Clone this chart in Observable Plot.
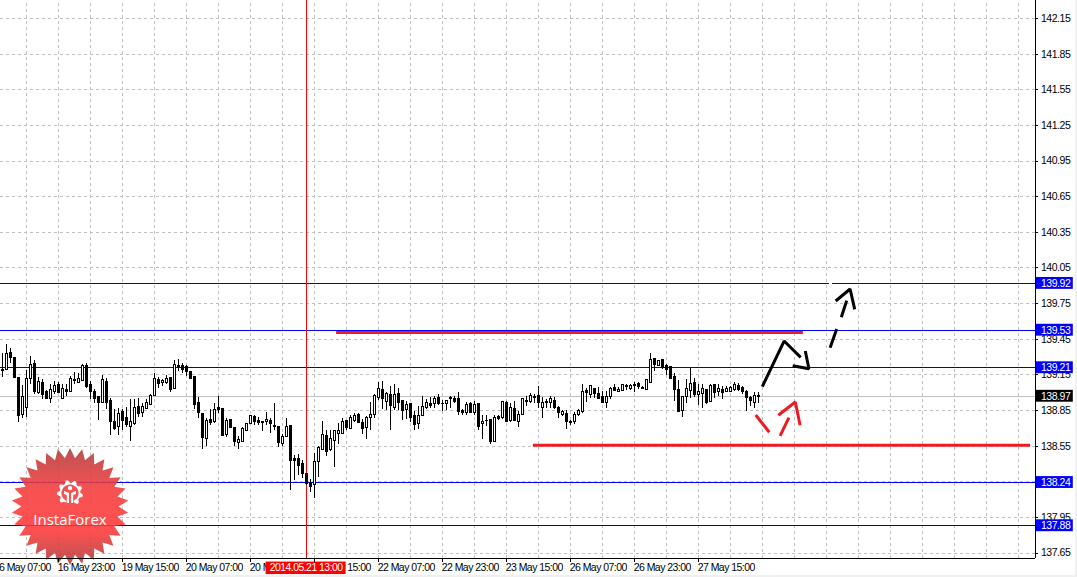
<!DOCTYPE html>
<html>
<head>
<meta charset="utf-8">
<script src="https://cdn.jsdelivr.net/npm/d3@7"></script>
<script src="https://cdn.jsdelivr.net/npm/@observablehq/plot@0.6"></script>
<style>
html,body{margin:0;padding:0;background:#f0f0f0;overflow:hidden}
#chart{width:1075px;height:575px;background:#fff;overflow:hidden}
#chart svg{display:block}
.ylab text{letter-spacing:-0.45px}
.xlab text{letter-spacing:-0.55px}
</style>
</head>
<body>
<svg width="0" height="0" style="position:absolute">
<defs><linearGradient id="badge" x1="0" y1="0" x2="0" y2="1">
<stop offset="0" stop-color="#b03a3a"/><stop offset="0.35" stop-color="#f53a3a"/>
<stop offset="0.7" stop-color="#ff3838"/><stop offset="1" stop-color="#b03a3a"/>
</linearGradient></defs>
</svg>
<div id="chart"></div>
<script>
const open = [
139.191,139.188,139.332,139.289,139.121,138.815,138.871,139.118,139.239,138.995,
139.079,139.003,138.944,139.006,139.065,138.950,139.023,139.006,139.104,139.085,
139.101,139.225,139.065,139.003,138.967,138.916,139.090,138.930,138.751,138.709,
138.841,138.784,138.714,138.740,138.877,138.832,138.866,138.899,138.972,139.107,
139.085,139.079,139.121,139.029,139.222,139.222,139.214,139.177,139.135,138.911,
138.821,138.608,138.770,138.754,138.869,138.860,138.644,138.770,138.703,138.574,
138.585,138.681,138.737,138.793,138.759,138.754,138.751,138.764,138.720,138.708,
138.571,138.630,138.720,138.442,138.442,138.400,138.316,138.243,138.220,138.419,
138.518,138.635,138.518,138.596,138.655,138.655,138.762,138.694,138.759,138.812,
138.742,138.706,138.790,138.815,138.958,139.023,138.922,138.978,138.874,138.989,
138.927,138.854,138.905,138.807,138.736,138.807,138.868,138.905,138.902,138.955,
138.908,138.908,138.955,138.947,138.947,138.843,138.832,138.902,138.826,138.905,
138.734,138.762,138.770,138.588,138.798,138.790,138.916,138.764,138.860,138.756,
138.812,138.930,138.922,138.964,138.969,138.874,138.925,138.916,138.927,138.871,
138.812,138.821,138.756,138.753,138.812,138.835,139.014,138.984,139.034,138.986,
138.967,138.916,138.967,139.037,139.006,139.014,139.048,139.034,139.056,139.070,
139.037,139.026,139.084,139.284,139.228,139.275,139.222,139.214,139.135,139.023,
138.849,138.961,139.017,139.079,138.978,138.986,139.023,138.925,139.062,139.009,
139.020,139.009,139.009,139.020,139.059,139.037,139.009,138.953,138.916,138.969];
const close = [
139.180,139.323,139.292,139.127,138.807,138.961,139.113,139.231,139.006,139.087,
138.981,138.947,139.020,139.054,139.000,139.029,139.003,139.116,139.099,139.113,
139.228,139.045,139.009,138.950,138.911,139.107,138.916,138.756,138.692,138.818,
138.765,138.728,138.751,138.869,138.821,138.877,138.911,138.972,139.113,139.076,
139.101,139.113,139.023,139.231,139.217,139.194,139.177,139.118,138.897,138.832,
138.622,138.759,138.742,138.855,138.855,138.638,138.759,138.703,138.588,138.599,
138.692,138.734,138.804,138.756,138.745,138.745,138.768,138.734,138.711,138.579,
138.624,138.708,138.428,138.428,138.386,138.316,138.229,138.209,138.414,138.537,
138.644,138.498,138.607,138.678,138.678,138.753,138.703,138.787,138.804,138.745,
138.697,138.787,138.809,138.972,139.028,138.944,138.989,138.888,138.981,138.916,
138.849,138.896,138.790,138.731,138.801,138.877,138.913,138.891,138.947,138.908,
138.902,138.927,138.944,138.919,138.840,138.832,138.896,138.832,138.896,138.714,
138.750,138.759,138.588,138.790,138.779,138.919,138.756,138.874,138.762,138.812,
138.947,138.919,138.969,138.958,138.916,138.913,138.911,138.944,138.871,138.832,
138.835,138.756,138.748,138.812,138.846,139.003,139.000,139.054,138.986,138.947,
138.916,138.964,139.031,139.017,139.026,139.062,139.054,139.056,139.062,139.045,
139.031,139.104,139.275,139.233,139.267,139.214,139.191,139.118,139.023,138.840,
138.967,139.031,139.073,138.981,139.006,139.028,138.911,139.056,139.000,139.028,
139.000,139.028,139.040,139.065,139.023,139.003,138.958,138.927,138.972,138.964];
const high = [
139.326,139.410,139.374,139.289,139.121,139.057,139.191,139.304,139.267,139.127,
139.107,139.015,139.065,139.093,139.087,139.065,139.065,139.135,139.172,139.163,
139.239,139.242,139.093,139.023,138.972,139.141,139.116,138.953,138.855,138.863,
138.855,138.877,138.944,138.939,138.953,138.911,138.944,138.981,139.163,139.127,
139.107,139.141,139.121,139.267,139.281,139.247,139.228,139.177,139.135,138.961,
138.821,138.784,138.855,138.911,138.972,138.860,138.784,138.776,138.709,138.630,
138.709,138.742,138.812,138.812,138.793,138.756,138.832,138.784,138.910,138.708,
138.644,138.784,138.720,138.475,138.484,138.433,138.316,138.273,138.489,138.543,
138.756,138.686,138.680,138.686,138.742,138.784,138.770,138.812,138.826,138.826,
138.776,138.798,138.919,138.989,139.087,139.093,139.000,139.051,139.073,139.037,
138.927,138.924,138.910,138.840,138.882,138.966,138.944,138.958,138.966,138.981,
138.938,138.933,138.972,138.972,139.003,138.860,138.916,138.919,138.924,138.905,
138.804,138.804,138.770,138.812,138.804,138.924,138.922,138.910,138.924,138.846,
138.953,138.972,138.995,138.989,139.056,138.961,138.947,138.967,138.961,138.882,
138.849,138.849,138.770,138.832,138.860,139.073,139.037,139.056,139.037,139.042,
139.009,139.009,139.042,139.073,139.045,139.073,139.073,139.065,139.084,139.084,
139.056,139.113,139.331,139.289,139.275,139.281,139.239,139.219,139.163,139.101,
138.972,139.107,139.200,139.121,139.065,139.065,139.028,139.065,139.070,139.065,
139.056,139.056,139.056,139.084,139.079,139.051,139.017,138.967,139.000,139.000];
const low = [
139.127,139.186,139.247,139.127,138.748,138.782,138.793,139.065,138.989,138.981,
138.944,138.939,138.911,138.989,138.995,138.939,138.967,139.000,139.065,139.079,
139.093,139.037,138.939,138.905,138.765,138.911,138.855,138.636,138.686,138.641,
138.681,138.709,138.588,138.728,138.793,138.793,138.860,138.894,138.967,139.037,
139.051,139.065,139.000,139.023,139.177,139.163,139.135,139.113,138.855,138.784,
138.523,138.551,138.728,138.742,138.826,138.636,138.624,138.697,138.551,138.523,
138.580,138.675,138.731,138.728,138.723,138.672,138.728,138.658,138.686,138.537,
138.546,138.624,138.175,138.257,138.307,138.279,138.223,138.158,138.111,138.287,
138.512,138.467,138.506,138.369,138.568,138.649,138.686,138.689,138.748,138.742,
138.652,138.602,138.686,138.779,138.938,138.860,138.854,138.678,138.849,138.854,
138.764,138.776,138.748,138.678,138.692,138.804,138.860,138.868,138.868,138.896,
138.840,138.854,138.865,138.910,138.812,138.812,138.812,138.826,138.812,138.686,
138.602,138.714,138.568,138.579,138.770,138.776,138.750,138.748,138.756,138.706,
138.807,138.882,138.905,138.911,138.868,138.787,138.863,138.868,138.860,138.781,
138.798,138.694,138.728,138.734,138.798,138.829,138.916,138.953,138.953,138.939,
138.911,138.871,138.939,139.009,139.000,139.009,139.017,139.017,139.000,139.031,
139.023,139.017,139.079,139.177,139.219,139.197,139.149,139.107,138.925,138.835,
138.790,138.911,138.953,138.958,138.896,138.868,138.902,138.919,138.953,138.972,
138.947,139.000,139.000,139.009,139.009,138.989,138.840,138.888,138.871,138.911];

const priceTicks = [142.15,141.85,141.55,141.25,140.95,140.65,140.35,140.05,139.75,139.45,139.15,138.85,138.55,138.25,137.95,137.65];
const gridBars = d3.range(-2, 258, 8);
const timeBars = [-2,14,30,46,62,78,94,110,126,142,158,174];
const timeLabels = ["16 May 07:00","16 May 23:00","19 May 15:00","20 May 07:00","20 May 23:00","21 May 15:00","22 May 07:00","22 May 23:00","23 May 15:00","26 May 07:00","26 May 23:00","27 May 15:00"];
const levelPrices = [139.92,139.526,139.21,138.244,137.88];
const levelColors = ["#0000c8","#0000ff","#0000c0","#0000ff","#0000a8"];
const lastPrice = 138.97;
const cursorBar = 76;
const cursorLabel = "2014.05.21 13:00";

const blackStrokes = [
 [[189.95,139.051],[195.4,139.435],[199.55,139.298]],
 [[197.55,139.227],[201.6,139.202],[200.7,139.351]],
 [[206.9,139.379],[208.55,139.536]],
 [[209.7,139.635],[211.05,139.775]],
 [[208.3,139.772],[211.9,139.873],[213.05,139.702]]
];
const redStrokes = [
 [[188.3,138.812],[191.7,138.667]],
 [[194.4,138.636],[196.6,138.790]],
 [[193.95,138.810],[198.2,138.922],[199.4,138.726]]
];
const redLevels = [
 [[83.4,139.507],[200.1,139.507]],
 [[132.6,138.557],[256.9,138.557]]
];

const bars = open.map((o,i)=>({i,o,c:close[i],h:high[i],l:low[i],up:close[i]>=o}));
const bw = 0.25;
const xMax = 258.25, yTop = 142.3015, yBottom = 137.6044;

const star = {draw(ctx,size){
  const R=Math.sqrt(size/Math.PI), r=R*0.83, n=30;
  for(let j=0;j<n*2;j++){
    const a=Math.PI*j/n-Math.PI/2, q=j%2?r:R;
    const px=q*Math.cos(a), py=q*Math.sin(a);
    if(j) ctx.lineTo(px,py); else ctx.moveTo(px,py);
  }
  ctx.closePath();
}};
const gear = {draw(ctx,size){
  const R=Math.sqrt(size/Math.PI), ri=R*0.66, teeth=8;
  const a0=Math.PI/2-0.42, a1=Math.PI/2+0.42-2*Math.PI;
  const steps=teeth*4;
  for(let j=0;j<=steps;j++){
    const a=a0+(a1-a0)*j/steps;
    const q=(j%4===1||j%4===2)?R:R*0.8;
    const px=q*Math.cos(a),py=q*Math.sin(a);
    if(j) ctx.lineTo(px,py); else ctx.moveTo(px,py);
  }
  ctx.arc(0,0,ri,a1,a0,false);
  ctx.closePath();
  const u=R/13;
  ctx.moveTo(2.2*u,-5*u);ctx.arc(0,-5*u,2.2*u,0,2*Math.PI);ctx.closePath();
  ctx.moveTo(-6*u,-2*u);ctx.lineTo(-1*u,0);ctx.lineTo(-1*u,10*u);ctx.lineTo(-3.2*u,10*u);ctx.lineTo(-3.2*u,2*u);ctx.lineTo(-6*u,1*u);ctx.closePath();
  ctx.moveTo(6*u,-2*u);ctx.lineTo(6*u,1*u);ctx.lineTo(3.2*u,2*u);ctx.lineTo(3.2*u,10*u);ctx.lineTo(1*u,10*u);ctx.lineTo(1*u,0);ctx.closePath();
}};

const strokeMarks = (list,color,w)=>list.map(s=>Plot.line(s,{x:d=>d[0],y:d=>d[1],stroke:color,strokeWidth:w,strokeLinejoin:"miter",strokeLinecap:"butt"}));
const crisp = {shapeRendering:"crispEdges"};

const font = "Liberation Sans";
const plot = Plot.plot({
  width:1075, height:575,
  marginLeft:0, marginRight:40, marginTop:0, marginBottom:17,
  style:{background:"#fff",fontFamily:font,fontSize:"10.5px",color:"#000",overflow:"hidden"},
  x:{type:"linear",domain:[-0.5,xMax],axis:null},
  y:{type:"linear",domain:[yBottom,yTop],axis:null},
  marks:[
    Plot.ruleX(gridBars,{x:d=>d,y1:yBottom,y2:yTop,stroke:"#c0c0c0",strokeDasharray:"3 3",...crisp}),
    Plot.ruleY(priceTicks,{y:d=>d,x1:-0.5,x2:xMax,stroke:"#c0c0c0",strokeDasharray:"3 3",...crisp}),
    Plot.ruleY([lastPrice],{y:d=>d,x1:-0.5,x2:xMax,stroke:"#c0c0c0",...crisp}),
    Plot.ruleY(levelPrices,{y:d=>d,x1:-0.5,x2:xMax,stroke:(d,i)=>levelColors[i],...crisp}),
    Plot.ruleX([cursorBar],{x:d=>d,y1:yBottom,y2:yTop,stroke:"#ff0000",...crisp}),
    Plot.ruleX(bars,{x:"i",y1:"l",y2:"h",stroke:"#000",...crisp}),
    Plot.rect(bars,{x1:d=>d.i-bw,x2:d=>d.i+bw,y1:"o",y2:"c",fill:d=>d.up?"#fff":"#000",stroke:"#000",...crisp}),
    ...strokeMarks(redLevels,"#ed1c24",3),
    Plot.ruleY([139.92],{y:d=>d,x1:206.8,x2:207.6,stroke:"#fff",...crisp}),
    ...strokeMarks(blackStrokes,"#000",3),
    ...strokeMarks(redStrokes,"#ed1c24",3),

    Plot.dot([[16.875,138.042]],{x:d=>d[0],y:d=>d[1],r:58.5,symbol:star,fill:"url(#badge)",fillOpacity:0.88,stroke:"none"}),
    Plot.dot([[16.875,138.155]],{x:d=>d[0],y:d=>d[1],r:13,symbol:gear,fill:"#fff",stroke:"none"}),
    Plot.text(["InstaForex"],{x:16.875,y:137.925,text:d=>d,fill:"#fff",fontSize:15,fontFamily:"Open Sans",textAnchor:"middle",lineAnchor:"middle"}),

    Plot.ruleX([xMax],{x:d=>d,y1:yBottom,y2:yTop,stroke:"#000",...crisp}),
    Plot.ruleY([yBottom],{y:d=>d,x1:-0.5,x2:xMax,stroke:"#000",...crisp}),
    Plot.ruleY(priceTicks,{y:d=>d,x1:xMax,x2:xMax+0.85,stroke:"#000",...crisp}),
    Plot.ruleX(timeBars,{x:d=>d,y1:yBottom,y2:yBottom-0.03,stroke:"#000",...crisp}),
    Plot.text(priceTicks,{x:259.6,y:d=>d,text:d=>d.toFixed(2),textAnchor:"start",lineAnchor:"middle",fill:"#000",className:"ylab"}),
    Plot.text(timeLabels,{x:(d,i)=>timeBars[i]-0.2,y:yBottom,dy:9,text:d=>d,textAnchor:"start",lineAnchor:"middle",fill:"#000",className:"xlab"}),

    Plot.rect([cursorBar],{x1:65.9,x2:85.9,y1:yBottom-0.03,y2:yBottom-0.135,fill:"#ff0000"}),
    Plot.text([cursorLabel],{x:75.9,y:yBottom,dy:9,text:d=>d,fill:"#fff",textAnchor:"middle",lineAnchor:"middle",className:"xlab"}),

    Plot.rect(levelPrices,{x1:258.5,x2:267.7,y1:d=>d-0.05,y2:d=>d+0.05,fill:"#0000ff"}),
    Plot.text(levelPrices,{x:259.6,y:d=>d,text:d=>d.toFixed(2),fill:"#fff",textAnchor:"start",lineAnchor:"middle",className:"ylab"}),
    Plot.rect([lastPrice],{x1:258.5,x2:267.7,y1:d=>d-0.05,y2:d=>d+0.05,fill:"#000"}),
    Plot.text([lastPrice],{x:259.6,y:d=>d,text:d=>d.toFixed(2),fill:"#fff",textAnchor:"start",lineAnchor:"middle",className:"ylab"})
  ]
});
document.getElementById("chart").append(plot);
</script>
</body>
</html>
